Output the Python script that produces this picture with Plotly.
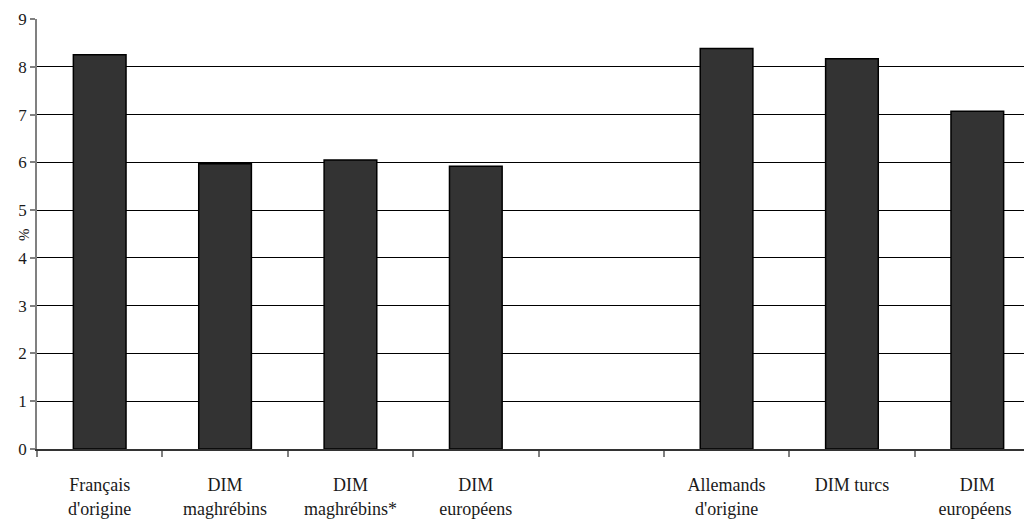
import plotly.graph_objects as go

categories = ["Français<br>d'origine", "DIM<br>maghrébins", "DIM<br>maghrébins*", "DIM<br>européens",
              " ", "Allemands<br>d'origine", "DIM turcs", "DIM<br>européens "]
values = [8.25, 5.97, 6.05, 5.92, None, 8.38, 8.17, 7.07]
y_ticks = list(range(0, 10))

fig = go.Figure()
fig.add_trace(go.Bar(
    x=categories, y=values,
    marker=dict(color="#333333", line=dict(color="#000000", width=1.5)),
    hoverinfo="skip",
))

font_family = "Liberation Serif"
fig.update_layout(
    width=1032, height=521,
    margin=dict(l=29, r=0, t=11, b=80),
    paper_bgcolor="white", plot_bgcolor="white",
    bargap=0.58,
    showlegend=False,
    font=dict(family=font_family, color="#1a1a1a", size=17),
    xaxis=dict(
        type="category",
        range=[-0.5, 7.5],
        tickson="boundaries",
        ticks="outside", ticklen=6, tickcolor="#808080", tickwidth=1.5,
        showline=True, linecolor="#333333", linewidth=1.5,
        showgrid=False,
        tickfont=dict(family=font_family, size=18, color="#1a1a1a"),
        ticklabelstandoff=19,
    ),
    yaxis=dict(
        range=[0, 9],
        tickvals=y_ticks,
        ticks="outside", ticklen=5, tickcolor="#808080", tickwidth=1.5,
        showline=True, linecolor="#808080", linewidth=1.5,
        showgrid=True, gridcolor="#000000", gridwidth=1,
        zeroline=False,
        tickfont=dict(family=font_family, size=17, color="#1a1a1a"),
    ),
)
fig.add_annotation(
    text="%", xref="paper", yref="y", x=-0.013, y=4.5,
    xanchor="center", yanchor="middle",
    showarrow=False, textangle=-90,
    font=dict(family=font_family, size=15, color="#1a1a1a"),
)
fig.write_html("out.html")
